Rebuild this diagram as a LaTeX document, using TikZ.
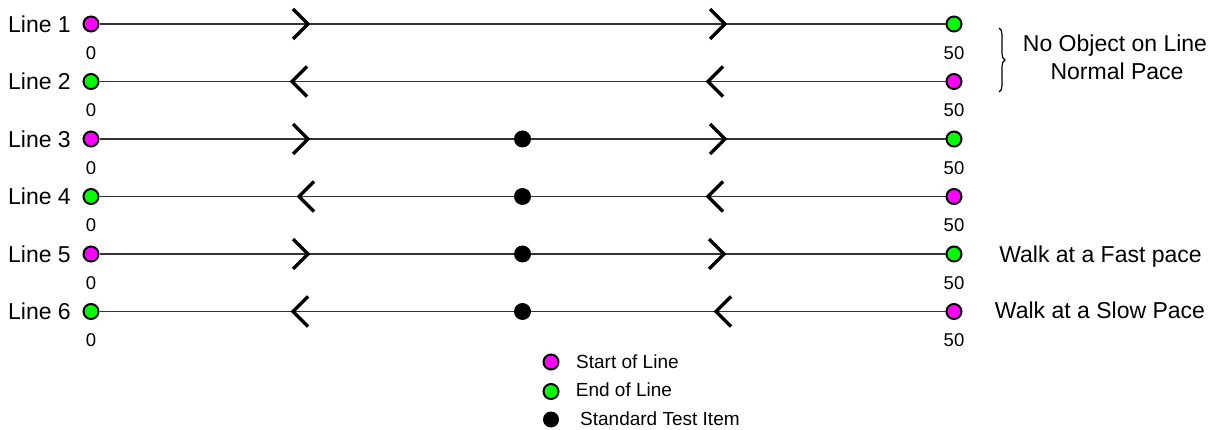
\documentclass[tikz,border=0pt]{standalone}
\usepackage{fontspec}
\setmainfont{Liberation Sans}
\usetikzlibrary{decorations.pathreplacing}
\definecolor{startc}{RGB}{255,0,255}
\definecolor{endc}{RGB}{0,255,0}
\begin{document}
\begin{tikzpicture}[x=1pt,y=-1pt,
  dot/.style={circle,draw=black,line width=2pt,inner sep=0pt,minimum size=15pt},
  sdot/.style={dot,fill=startc},
  edot/.style={dot,fill=endc},
  item/.style={circle,fill=black,inner sep=0pt,minimum size=17pt},
  track/.style={draw=black!80,line width=1.6pt},
  chev/.style={draw=black,line width=3.3pt},
  lbl/.style={font=\fontsize{23}{27}\selectfont,anchor=base east,inner sep=0pt},
  num/.style={font=\fontsize{18.5}{22}\selectfont,anchor=base,inner sep=0pt},
  side/.style={font=\fontsize{23}{27}\selectfont,anchor=base,inner sep=0pt},
  legtext/.style={font=\fontsize{19}{23}\selectfont,anchor=base west,inner sep=0pt},
  chevR/.pic={\draw[chev] (-15,-15) -- (0,0) -- (-15,15);},
  chevL/.pic={\draw[chev] (15,-15) -- (0,0) -- (15,15);}
]
\useasboundingbox (0,0) rectangle (1221,430);

% lines: index / y / left style / right style / chevron / tip1 / tip2
\foreach \i/\y/\ls/\rs/\ch/\ta/\tb in {
  1/24/sdot/edot/chevR/308/725,
  2/81.5/edot/sdot/chevL/292/708,
  3/139/sdot/edot/chevR/308/725,
  4/196.5/edot/sdot/chevL/299/708,
  5/254/sdot/edot/chevR/308/724,
  6/311.5/edot/sdot/chevL/293/716}{
  \node[lbl] (lab\i) at (71,\y+8.3) {Line \i};
  \node[\ls] (L\i) at (91,\y) {};
  \node[\rs] (R\i) at (954,\y) {};
  \node[num] (n0\i) at (91,\y+35.3) {0};
  \node[num] (n5\i) at (954,\y+35.3) {50};
  \coordinate (a\i) at (\ta,\y);
  \coordinate (b\i) at (\tb,\y);
}
\draw[track] (L1) -- (R1);
\draw[track] (L2) -- (R2);
\foreach \i/\y in {3/139,4/196.5,5/254,6/311.5}{
  \node[item] (M\i) at (522.5,\y) {};
  \draw[track] (L\i) -- (M\i) -- (R\i);
}
\foreach \i/\ch in {1/chevR,2/chevL,3/chevR,4/chevL,5/chevR,6/chevL}{
  \pic at (a\i) {\ch};
  \pic at (b\i) {\ch};
}

% right-hand notes
\draw[line width=1.2pt,decorate,decoration={brace,amplitude=6pt}] (999,28) -- (999,92);
\node[side] (t1) at (1115,52) {No Object on Line};
\node[side] (t2) at (1117,80) {Normal Pace};
\node[side] (t5) at (1100.5,262.3) {Walk at a Fast pace};
\node[side] (t6) at (1100,318.5) {Walk at a Slow Pace};

% legend
\node[sdot] (ks) at (551,362) {};
\node[edot] (ke) at (551,391.5) {};
\node[item,minimum size=16pt] (ki) at (551,419.5) {};
\node[legtext] (ts) at (576,368.3) {Start of Line};
\node[legtext] (te) at (575.7,396.7) {End of Line};
\node[legtext] (ti) at (580,425) {Standard Test Item};
\end{tikzpicture}
\end{document}
